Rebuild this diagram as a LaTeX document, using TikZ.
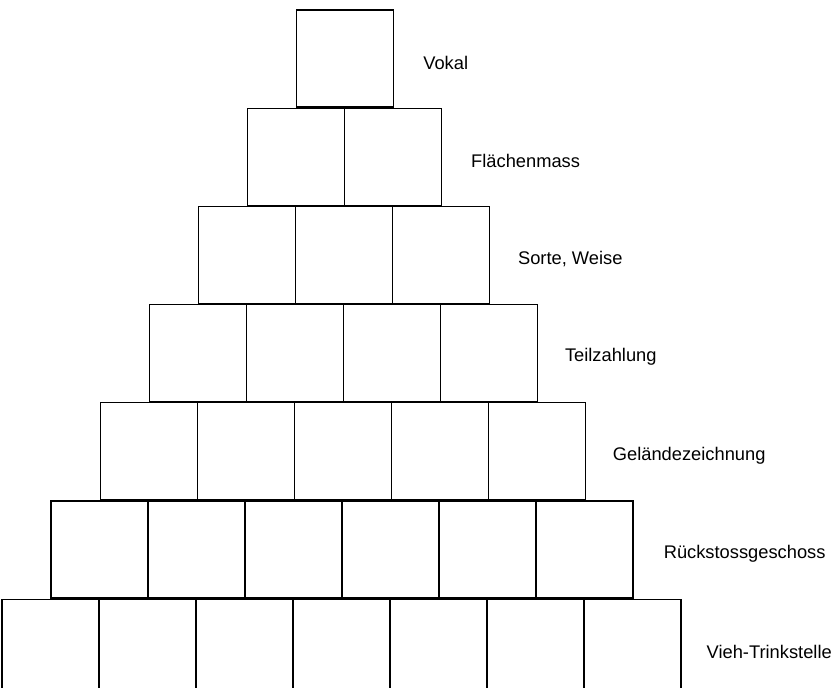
\documentclass[tikz,border=0pt]{standalone}
\usepackage{fontspec}
\setmainfont{Liberation Sans}
\usetikzlibrary{positioning}

\begin{document}
\begin{tikzpicture}[x=1pt, y=1pt, node distance=97pt,
    box/.style={draw, line width=1.2pt, minimum width=97pt, minimum height=97pt, inner sep=0pt},
    word/.style={font=\fontsize{18.3}{22}\selectfont, inner sep=0pt, yshift=-4pt}]
      \useasboundingbox (0,0) rectangle (839,-688);
      \clip (0,0) rectangle (839,-688);

      % row 1
      \node[box] (V1) at (345,-58.5) {};
      \node[word, right=29pt of V1] (Vokal) {Vokal};

      % row 2
      \node[box, below=0pt of V1.south west] (F1) {};
      \node[box, right of=F1] (F2) {};
      \node[word, right=29pt of F2] (Flaeche) {Flächenmass};

      % row 3
      \node[box, below=0pt of F1.south west] (S1) {};
      \node[box, right of=S1] (S2) {};
      \node[box, right of=S2] (S3) {};
      \node[word, right=28pt of S3] (Sorte) {Sorte, Weise};

      % row 4
      \node[box, below=0pt of S1.south west] (T1) {};
      \node[box, right of=T1] (T2) {};
      \node[box, right of=T2] (T3) {};
      \node[box, right of=T3] (T4) {};
      \node[word, right=27pt of T4] (Teil) {Teilzahlung};

      % row 5
      \node[box, below=0pt of T1.south west] (G1) {};
      \node[box, right of=G1] (G2) {};
      \node[box, right of=G2] (G3) {};
      \node[box, right of=G3] (G4) {};
      \node[box, right of=G4] (G5) {};
      \node[word, right=27pt of G5] (Gelaende) {Geländezeichnung};

      % row 6
      \node[box, below=0pt of G1.south west] (R1) {};
      \node[box, right of=R1] (R2) {};
      \node[box, right of=R2] (R3) {};
      \node[box, right of=R3] (R4) {};
      \node[box, right of=R4] (R5) {};
      \node[box, right of=R5] (R6) {};
      \node[word, right=30pt of R6] (Rueck) {Rückstossgeschoss};

      % row 7 (runs off the bottom)
      \node[box, below=0pt of R1.south west] (W1) {};
      \node[box, right of=W1] (W2) {};
      \node[box, right of=W2] (W3) {};
      \node[box, right of=W3] (W4) {};
      \node[box, right of=W4] (W5) {};
      \node[box, right of=W5] (W6) {};
      \node[box, right of=W6] (W7) {};
      \node[word, right=25pt of W7] (Vieh) {Vieh-Trinkstelle};

    \end{tikzpicture}
\end{document}
